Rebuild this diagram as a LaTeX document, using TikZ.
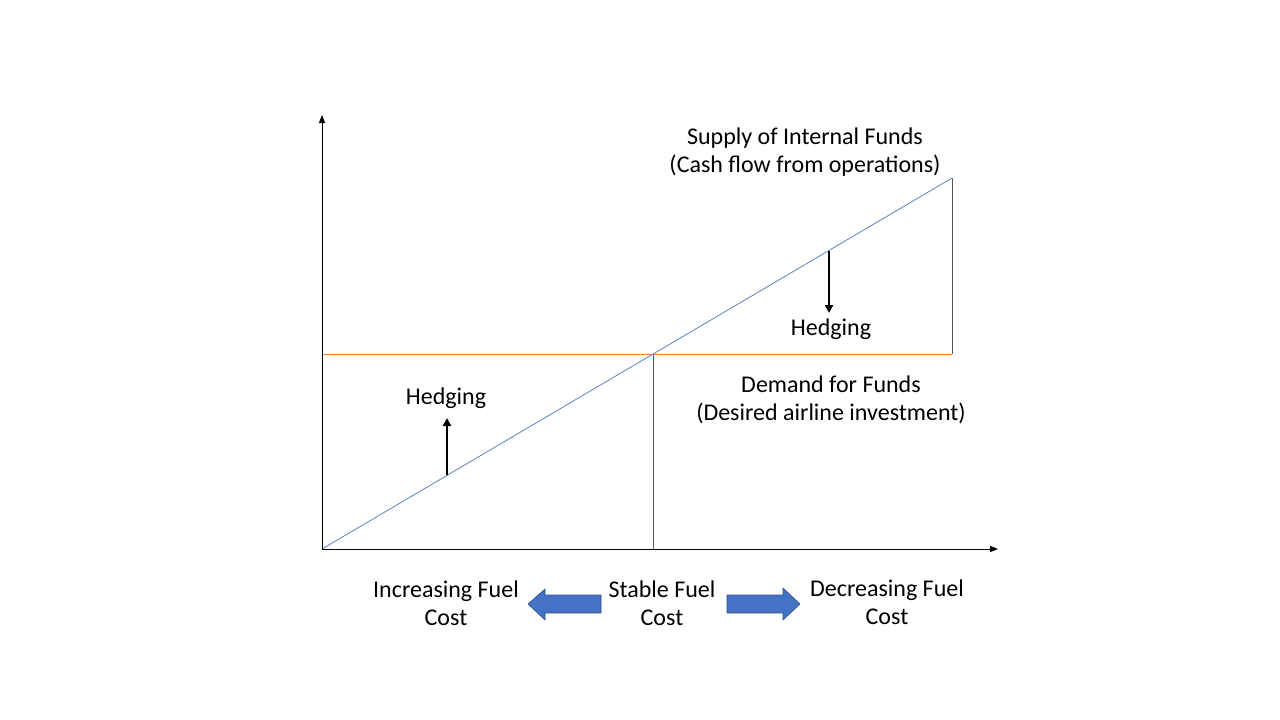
\documentclass[tikz,border=0pt]{standalone}
\usepackage{fontspec}
\setmainfont{Carlito}
\usetikzlibrary{arrows.meta}
\definecolor{supplyblue}{RGB}{91,130,190}
\definecolor{demandorange}{RGB}{237,125,49}
\definecolor{blockfill}{RGB}{68,114,196}
\definecolor{blockedge}{RGB}{47,82,143}
\definecolor{guidegray}{RGB}{80,90,100}
\begin{document}
\begin{tikzpicture}[x=1pt,y=-1pt,
  axis/.style={draw=black,line width=1pt,-{Triangle[length=8pt,width=6pt]}},
  hedgearrow/.style={draw=black,line width=2.8pt,-{Triangle[length=8pt,width=8pt]}},
  lbl/.style={font=\fontsize{24}{28}\selectfont,align=center,inner sep=0pt},
  blockarrow/.style={fill=blockfill,draw=blockedge,line width=0.6pt}]
\useasboundingbox (0,0) rectangle (1280,720);
\fill[white] (0,0) rectangle (1280,720);
% coordinates
\coordinate (O) at (322,549);
\coordinate (ytop) at (322,115);
\coordinate (xend) at (998,549);
\coordinate (dl) at (322,354);
\coordinate (dr) at (952,354);
\coordinate (stop) at (952,178);
\coordinate (mid) at (653,354);
\coordinate (midb) at (653,549);
% guides
\draw[guidegray,line width=0.6pt] (mid) -- (midb);
\draw[guidegray,line width=0.6pt] (stop) -- (dr);
% demand line
\draw[demandorange,line width=0.8pt] (dl) -- (dr);
% supply line
\draw[supplyblue,line width=0.8pt] (O) -- (stop);
% axes
\draw[axis] (O) -- (ytop);
\draw[axis] (O) -- (xend);
% hedging arrows
\coordinate (h1a) at (829,251);
\coordinate (h1b) at (829,313);
\coordinate (h2a) at (447,475);
\coordinate (h2b) at (447,418);
\draw[hedgearrow] (h1a) -- (h1b);
\draw[hedgearrow] (h2a) -- (h2b);
% labels
\node[lbl] (supply) at (805,152.5) {Supply of Internal Funds\\(Cash flow from operations)};
\node[lbl] (hedge1) at (831,329.5) {Hedging};
\node[lbl] (hedge2) at (446,398.5) {Hedging};
\node[lbl] (demand) at (831,399.5) {Demand for Funds\\(Desired airline investment)};
\node[lbl] (inc) at (446,603) {Increasing Fuel\\Cost};
\node[lbl] (stab) at (662,603) {Stable Fuel\\Cost};
\node[lbl] (dec) at (887,602) {Decreasing Fuel\\Cost};
% block arrows
\draw[blockarrow] (601,595) -- (545,595) -- (545,589) -- (528,604) -- (545,620) -- (545,613) -- (601,613) -- cycle;
\draw[blockarrow] (727,595) -- (783,595) -- (783,588) -- (800,604) -- (783,620) -- (783,613) -- (727,613) -- cycle;
\end{tikzpicture}
\end{document}
